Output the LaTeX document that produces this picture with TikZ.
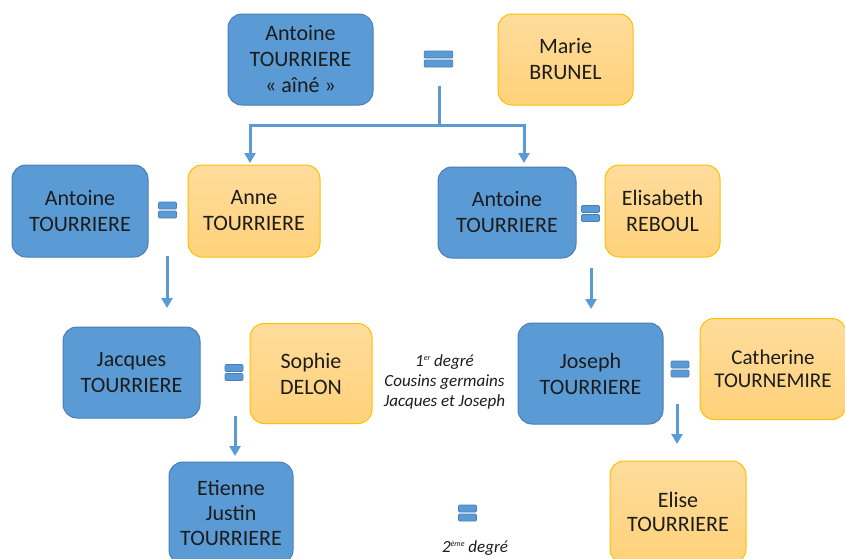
\documentclass[tikz,border=0pt]{standalone}
\usepackage{fontspec}
\setmainfont{Carlito}
\usetikzlibrary{arrows.meta}
\definecolor{bfill}{HTML}{5B9BD5}
\definecolor{bline}{HTML}{4A7EB5}
\definecolor{ofilltop}{HTML}{FFDC9C}
\definecolor{ofillbot}{HTML}{FFD27A}
\definecolor{oline}{HTML}{FFC000}
\definecolor{txt}{HTML}{1C1C1C}
\newcommand{\supsm}[1]{\raisebox{0.75ex}{\fontsize{8}{8}\selectfont #1}}
\begin{document}
\begin{tikzpicture}[x=1pt,y=-1pt,
  person/.style={rounded corners=14pt, line width=1pt, inner sep=0pt, align=center,
    font=\fontsize{22}{26}\selectfont, text=txt},
  man/.style={person, fill=bfill, draw=bline},
  woman/.style={person, top color=ofilltop, bottom color=ofillbot, draw=oline},
  conn/.style={draw=bfill, line width=3pt},
  arr/.style={conn, -{Triangle[length=10pt,width=11pt]}},
  eqbar/.style={fill=bfill, draw=bline, line width=0.6pt, rounded corners=1pt},
  eqsign/.pic={\path[eqbar] (-9,-8) rectangle (9,-1); \path[eqbar] (-9,1) rectangle (9,8);},
  note/.style={align=center, font=\fontsize{17}{20}\selectfont\itshape, text=txt}]
\useasboundingbox (0,0) rectangle (845,558);
\clip (0,0) rectangle (845,558);
\fill[white] (0,0) rectangle (845,558);

% generation 0
\node[man, minimum width=145pt, minimum height=91pt] (aine) at (300.5,59.5) {Antoine\\TOURRIERE\\« aîné »};
\node[woman, minimum width=135pt, minimum height=91pt] (marie) at (565.5,59.5) {Marie\\BRUNEL};
\pic[xscale=1.6] at (438.5,59) {eqsign};

% generation 1
\node[man, minimum width=136pt, minimum height=92pt] (ant1) at (80,211) {Antoine\\TOURRIERE};
\pic at (167.5,210) {eqsign};
\node[woman, minimum width=132pt, minimum height=92pt] (anne) at (254,211) {Anne\\TOURRIERE};
\node[man, minimum width=138pt, minimum height=91pt] (ant2) at (507,212.5) {Antoine\\TOURRIERE};
\pic at (590.5,213.5) {eqsign};
\node[woman, minimum width=115pt, minimum height=92pt] (elis) at (662.5,211) {Elisabeth\\REBOUL};

% generation 2
\node[man, minimum width=137pt, minimum height=91pt] (jacq) at (131.5,372.5) {Jacques\\TOURRIERE};
\pic at (234,372.5) {eqsign};
\node[woman, minimum width=122pt, minimum height=100pt] (soph) at (311,373.5) {Sophie\\DELON};
\node[note] (deg1) at (444.5,382) {1\supsm{er} degré\\Cousins germains\\Jacques et Joseph};
\node[man, minimum width=145pt, minimum height=101pt] (jos) at (590.5,373.5) {Joseph\\TOURRIERE};
\pic at (680,369) {eqsign};
\node[woman, minimum width=146pt, minimum height=101pt, font=\fontsize{21}{23}\selectfont] (cath) at (773,369) {Catherine\\TOURNEMIRE};

% generation 3
\node[man, minimum width=124pt, minimum height=102pt, font=\fontsize{22}{25}\selectfont] (etie) at (231,513) {Etienne\\Justin\\TOURRIERE};
\node[woman, minimum width=136pt, minimum height=102pt, font=\fontsize{22}{24}\selectfont] (elise) at (678,512) {Elise\\TOURRIERE};
\pic at (467.5,513) {eqsign};
\node[note] (deg2) at (475,548) {2\supsm{ème} degré};

% connectors
\coordinate (t0) at (439,86);
\coordinate (t1) at (439,125);
\coordinate (tl) at (250,163);
\coordinate (tr) at (524,163);
\draw[conn] (t0) -- (t1);
\draw[arr] (t1) -| (tl);
\draw[arr] (t1) -| (tr);

\coordinate (l0) at (167,256);
\coordinate (l1) at (167,308);
\draw[arr] (l0) -- (l1);
\coordinate (r0) at (591,268);
\coordinate (r1) at (591,309);
\draw[arr] (r0) -- (r1);
\coordinate (l2) at (235,416);
\coordinate (l3) at (235,456);
\draw[arr] (l2) -- (l3);
\coordinate (r2) at (677,404);
\coordinate (r3) at (677,444);
\draw[arr] (r2) -- (r3);
\end{tikzpicture}
\end{document}
